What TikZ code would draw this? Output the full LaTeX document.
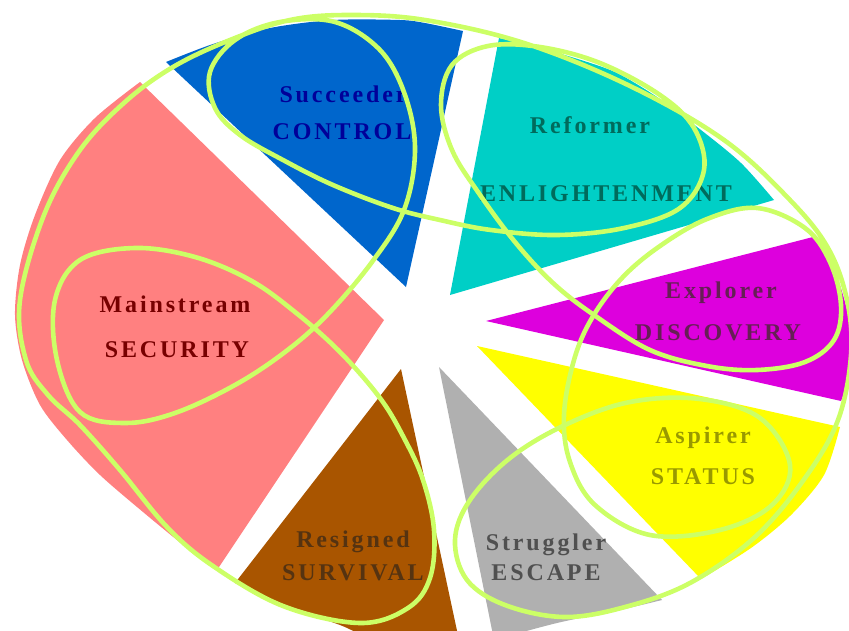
\documentclass[tikz,border=0pt]{standalone}
\usepackage{fontspec}
\newfontfamily\labelfont[LetterSpace=12]{Liberation Serif}
\definecolor{wblue}{HTML}{0066CC}
\definecolor{wteal}{HTML}{00CFC6}
\definecolor{wmagenta}{HTML}{DD00DD}
\definecolor{wyellow}{HTML}{FFFF00}
\definecolor{wgray}{HTML}{B0B0B0}
\definecolor{wbrown}{HTML}{A95500}
\definecolor{wpink}{HTML}{FF8080}
\definecolor{tblue}{HTML}{000099}
\definecolor{tteal}{HTML}{006B5C}
\definecolor{tmagenta}{HTML}{661F55}
\definecolor{tyellow}{HTML}{999900}
\definecolor{tgray}{HTML}{505050}
\definecolor{tpink}{HTML}{770000}
\definecolor{tbrown}{HTML}{553311}
\definecolor{loopgreen}{HTML}{CCFF66}
\begin{document}
\begin{tikzpicture}[x=1pt,y=-1pt,
  lbl/.style={anchor=base, inner sep=0pt,
    font=\labelfont\bfseries\fontsize{24}{24}\selectfont},
  looppath/.style={draw=loopgreen, line width=4.6pt, line join=round}]
\useasboundingbox (0,0) rectangle (849,630);
\clip (0,0) rectangle (849,630);

% wedges of the segmentation pie
\fill[wblue] (406,287) -- plot[smooth] coordinates
  {(166,62) (213,44) (270,28) (333,20) (400,20) (425,23) (463,31)} -- cycle;
\fill[wteal] (450,295) -- plot[smooth] coordinates
  {(499,38) (530,45) (581,60) (617,73) (657,97) (701,130) (741,163) (774,200)} -- cycle;
\fill[wmagenta] (486,321) -- plot[smooth] coordinates
  {(813,237) (831,262) (843,295) (851,330) (851,370) (841,401)} -- cycle;
\fill[wyellow] (477,346) -- plot[smooth] coordinates
  {(840,427) (824,475) (791,515) (751,548) (701,579)} -- cycle;
\fill[wgray] (439,367) -- (662,600) -- plot[smooth] coordinates
  {(662,600) (624,609) (557,623) (494,640)} -- cycle;
\fill[wbrown] (401,369) -- (459,640) -- plot[smooth] coordinates
  {(459,640) (380,640) (340,625) (290,607) (235,583)} -- cycle;
\fill[wpink] (384,320) -- plot[smooth] coordinates
  {(140,82) (95,118) (60,160) (35,215) (20,265) (15,315) (22,360) (40,405)
   (67,440) (100,475) (143,512) (187,548) (217,570)} -- cycle;

% segment labels
\node[lbl, text=tblue] (succ) at (343,102) {Succeeder};
\node[lbl, text=tblue] (control) at (342,139) {CONTROL};
\node[lbl, text=tteal] (reform) at (590,133) {Reformer};
\node[lbl, text=tteal] (enlight) at (606,201) {ENLIGHTENMENT};
\node[lbl, text=tmagenta] (explor) at (721,298) {Explorer};
\node[lbl, text=tmagenta] (discov) at (718,340) {DISCOVERY};
\node[lbl, text=tyellow] (aspir) at (703,443) {Aspirer};
\node[lbl, text=tyellow] (status) at (703,484) {STATUS};
\node[lbl, text=tgray] (struggle) at (546,550) {Struggler};
\node[lbl, text=tgray] (escape) at (546,580) {ESCAPE};
\node[lbl, text=tpink] (mainstr) at (175,312) {Mainstream};
\node[lbl, text=tpink] (security) at (177,357) {SECURITY};
\node[lbl, text=tbrown] (resign) at (353,547) {Resigned};
\node[lbl, text=tbrown] (survival) at (353,580) {SURVIVAL};

% looping outline that circles every segment
\draw[looppath] plot[smooth cycle, tension=0.6] coordinates {
  (327,315) (372,262) (404,210) (415,150) (405,95) (380,50) (335,22)
  (280,22) (235,40) (210,72) (215,108) (240,135) (283,160) (333,185)
  (393,208) (440,220) (491,230) (557,235) (624,228) (680,208) (704,170)
  (694,128) (660,95) (600,63) (540,47) (488,46) (452,65) (441,105)
  (452,150) (478,192) (515,242) (553,283) (594,315) (650,350) (707,366)
  (757,370) (805,362) (834,340) (841,305) (830,262) (805,228) (757,208)
  (707,219) (660,246) (622,278) (592,318) (574,360) (564,415) (570,462)
  (595,505) (650,535) (720,530) (772,505) (790,465) (760,418) (700,399)
  (630,402) (565,425) (510,458) (470,500) (455,540) (467,580) (505,605)
  (564,617) (625,607) (690,583) (755,537) (805,478) (838,420) (851,355)
  (847,300) (828,248) (790,200) (724,140) (630,86) (524,43)
  (425,20) (350,15) (290,20) (230,40) (173,67) (125,102)
  (80,150) (44,215) (20,300) (26,360) (48,395) (80,425)
  (120,470) (167,527) (213,566) (283,606) (360,623) (408,608) (430,578)
  (434,530) (423,480) (404,438) (380,398) (340,352) (295,312)
  (250,280) (195,257) (135,248) (80,260) (55,300) (57,360) (80,412)
  (125,423) (175,413) (235,385) (285,352)};
\end{tikzpicture}
\end{document}
